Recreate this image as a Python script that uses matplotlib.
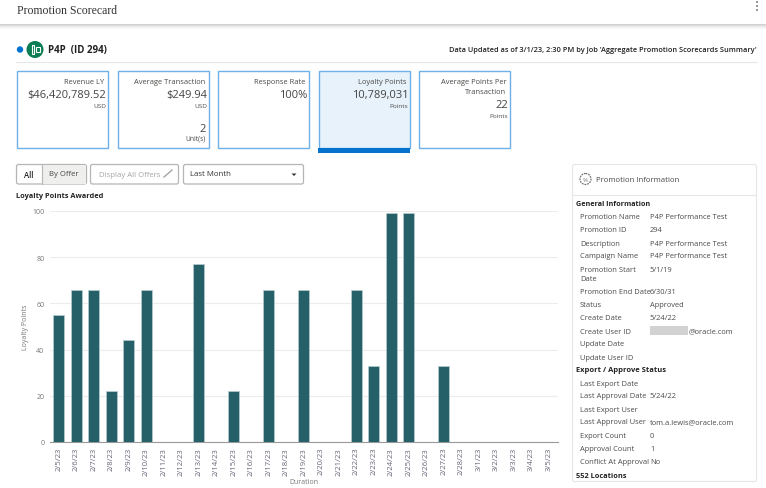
import matplotlib
matplotlib.use("Agg")
import matplotlib.pyplot as plt
from matplotlib.patches import Rectangle, FancyBboxPatch, Circle

plt.rcParams["font.family"] = ["Open Sans", "DejaVu Sans"]

W, H = 766, 489

dates = ["2/5/23", "2/6/23", "2/7/23", "2/8/23", "2/9/23", "2/10/23", "2/11/23", "2/12/23",
         "2/13/23", "2/14/23", "2/15/23", "2/16/23", "2/17/23", "2/18/23", "2/19/23", "2/20/23",
         "2/21/23", "2/22/23", "2/23/23", "2/24/23", "2/25/23", "2/26/23", "2/27/23", "2/28/23",
         "3/1/23", "3/2/23", "3/3/23", "3/4/23", "3/5/23"]
points = [55, 66, 66, 22, 44, 66, 0, 0, 77, 0, 22, 0, 66, 0, 66, 0, 0, 66, 33, 99, 99, 0, 33,
          0, 0, 0, 0, 0, 0]
y_ticks = [0, 20, 40, 60, 80, 100]

card_titles = [["Revenue LY"], ["Average Transaction"], ["Response Rate"], ["Loyalty Points"],
               ["Average Points Per", "Transaction"]]
card_values = ["$46,420,789.52", "$249.94", "100%", "10,789,031", "22"]
card_units = ["USD", "USD", "", "Points", "Points"]

general_rows = [("Promotion Name", "P4P Performance Test", 217.5),
                ("Promotion ID", "294", 230.5),
                ("Description", "P4P Performance Test", 244),
                ("Campaign Name", "P4P Performance Test", 257),
                ("Promotion End Date", "6/30/31", 292.5),
                ("Status", "Approved", 305.5),
                ("Create Date", "5/24/22", 318.5),
                ("Create User ID", "@oracle.com", 332),
                ("Update Date", "", 345),
                ("Update User ID", "", 358)]
export_rows = [("Last Export Date", "", 384),
               ("Last Approval Date", "5/24/22", 397),
               ("Last Export User", "", 410),
               ("Last Approval User", "tom.a.lewis@oracle.com", 423),
               ("Export Count", "0", 436),
               ("Approval Count", "1", 449.5),
               ("Conflict At Approval", "No", 463)]

GREY = "#4a4a48"
TEAL = "#255f68"
BLUE = "#0572ce"

fig = plt.figure(figsize=(W / 100, H / 100), dpi=100, facecolor="white")

# page furniture lives on an overlay in pixel coordinates
ui = fig.add_axes([0, 0, 1, 1], zorder=2)
ui.set_xlim(0, W)
ui.set_ylim(H, 0)
ui.axis("off")
ui.patch.set_alpha(0)

# header shadow
for i, c in enumerate(["#d0d0d0", "#dedede", "#e9e9e9", "#f3f3f3", "#f9f9f9"]):
    ui.add_patch(Rectangle((0, 25 + i), W, 1, fc=c, ec="none"))
ui.text(17, 10.5, "Promotion Scorecard", family="Liberation Serif", fontsize=8.5, color="#333333", va="center")
for yy in (3, 7, 11):
    ui.add_patch(Circle((757, yy), 0.8, fc="#333333", ec="none"))

# promotion title row
ui.add_patch(Circle((20, 50.5), 3.2, fc=BLUE, ec="none"))
ui.add_patch(Circle((35, 50.5), 8.5, fc="#0b7d53", ec="none"))
ui.add_patch(Rectangle((31.5, 46), 2.5, 9, fc="none", ec="white", lw=0.8))
ui.add_patch(Rectangle((35.5, 48), 4.5, 5, fc="none", ec="white", lw=0.8))
ui.text(48, 51, "P4P  (ID 294)", fontsize=7, fontweight="bold", color="#222222", va="center")
ui.text(757, 51, "Data Updated as of 3/1/23, 2:30 PM by Job 'Aggregate Promotion Scorecards Summary'",
        fontsize=5.3, fontweight="semibold", color="#222222", ha="right", va="center")
ui.plot([16, 757], [63, 63], color="#e6e6e6", lw=0.8)

# metric cards
card_x = [16.5, 117.5, 217.5, 318.5, 418.5]
for i, x in enumerate(card_x):
    selected = i == 3
    ui.add_patch(Rectangle((x, 71.5), 91, 77, fc="#e8f2fb" if selected else "white", ec="#6fb0e6", lw=1))
    right = x + 89
    for j, line in enumerate(card_titles[i]):
        ui.text(right - 1, 82.5 + j * 10, line, fontsize=5.4, color=GREY, ha="right", va="center")
    vy = 95.5 if len(card_titles[i]) == 1 else 106
    ui.text(right + 1, vy, card_values[i], fontsize=8, color="#444444", ha="right", va="center")
    ui.text(right + 1, vy + 10.5, card_units[i], fontsize=4.6, color=GREY, ha="right", va="center")
ui.text(206, 129, "2", fontsize=8, color="#444444", ha="right", va="center")
ui.text(206, 139.5, "Unit(s)", fontsize=4.8, color=GREY, ha="right", va="center")
ui.add_patch(Rectangle((318, 148.5), 92, 5.5, fc=BLUE, ec="none"))

# controls row
def button(x, w, fc="white"):
    ui.add_patch(FancyBboxPatch((x, 165.5), w, 19.5, boxstyle="round,pad=0,rounding_size=2",
                                fc=fc, ec="#b5b5b3", lw=0.9))

button(16.5, 70)
ui.add_patch(Rectangle((42, 166), 44, 18.5, fc="#efefed", ec="none"))
ui.plot([42, 42], [165.5, 185], color="#b5b5b3", lw=0.8)
ui.text(29, 175, "All", fontsize=5.6, fontweight="semibold", color="#222222", ha="center", va="center")
ui.text(64, 175, "By Offer", fontsize=5.6, color=GREY, ha="center", va="center")
button(90.5, 88)
ui.text(99, 175.5, "Display All Offers", fontsize=5.6, color="#a5a5a3", va="center")
ui.plot([164, 172], [178, 171], color="#a5a5a3", lw=1)
button(183.5, 120)
ui.text(189.5, 175, "Last Month", fontsize=5.6, color="#333333", va="center")
ui.fill([291.5, 296.5, 294], [174.5, 174.5, 177], fc="#333333", ec="none")
ui.text(16.5, 196, "Loyalty Points Awarded", fontsize=5.3, fontweight="bold", color="#222222", va="center")

# info panel
ui.add_patch(FancyBboxPatch((572.5, 165.5), 184, 317, boxstyle="round,pad=0,rounding_size=2",
                            fc="white", ec="#e6e6e6", lw=0.8))
ui.plot([573, 756], [195.5, 195.5], color="#e6e6e6", lw=0.8)
ui.add_patch(Circle((585.5, 180), 5.5, fc="none", ec="#777777", lw=0.9, ls=(0, (1.5, 0.7))))
ui.text(585.5, 180, "%", fontsize=4.5, color="#777777", ha="center", va="center")
ui.text(596.5, 181, "Promotion Information", fontsize=5.6, color=GREY, va="center")
ui.text(576, 204.5, "General Information", fontsize=5.2, fontweight="bold", color="#222222", va="center")
ui.text(576, 371, "Export / Approve Status", fontsize=5.4, fontweight="bold", color="#222222", va="center")
ui.text(576, 476, "552 Locations", fontsize=5.3, fontweight="bold", color="#222222", va="center")
ui.text(580, 275, "Promotion Start\nDate", fontsize=5.4, color=GREY, va="center", linespacing=1.25)
ui.text(650, 271, "5/1/19", fontsize=5.4, color=GREY, va="center")
ui.add_patch(Rectangle((650, 327), 38, 9, fc="#d2d2d2", ec="none"))
for label, value, y in general_rows + export_rows:
    ui.text(580, y, label, fontsize=5.4, color=GREY, va="center")
    vx = 689 if label == "Create User ID" else 650
    ui.text(vx, y, value, fontsize=5.4, color=GREY, va="center")

# chart
ax = fig.add_axes([50 / W, 1 - 443 / H, 507.5 / W, 231 / H], zorder=1)
ax.bar(range(len(dates)), points, width=0.62, color=TEAL, edgecolor="#b8cdd0", linewidth=0.5, zorder=3)
ax.set_xlim(-0.5, len(dates) - 0.5)
ax.set_ylim(0, 100)
ax.set_xticks(range(len(dates)))
ax.set_xticklabels(dates, rotation=90, fontsize=5.6, color="#6b6478")
ax.set_yticks(y_ticks)
ax.grid(axis="y", color="#ececec", lw=0.8, zorder=0)
ax.tick_params(axis="y", labelsize=5, labelcolor="#777777", length=0, pad=4)
ax.tick_params(axis="x", length=0, pad=3.5)
ax.set_xlabel("Duration", fontsize=5, color="#777777", labelpad=2)
ax.set_ylabel("Loyalty Points", fontsize=5, color="#777777", labelpad=2)
for side in ["top", "right", "left"]:
    ax.spines[side].set_visible(False)
ax.spines["bottom"].set_color("#9a9a9a")

fig.savefig("out.png", dpi=100)
